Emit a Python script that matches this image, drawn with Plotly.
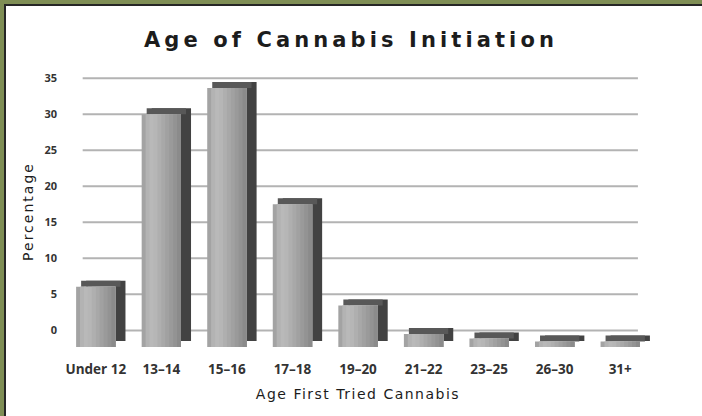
import plotly.graph_objects as go

# ---- data ----
categories = ["Under 12", "13–14", "15–16", "17–18", "19–20", "21–22", "23–25", "26–30", "31+"]
percentages = [7.5, 30.5, 34, 18.5, 5, 1.2, 0.6, 0.2, 0.2]
y_tick_values = [0, 5, 10, 15, 20, 25, 30, 35]

# ---- styling constants ----
GREEN = "#7f8e55"
DARK = "#262626"
TEXT = "#333333"
front_shades = ["#a3a3a3", "#b3b3b3", "#b9b9b9", "#b6b6b6", "#afafaf",
                "#a8a8a8", "#a1a1a1", "#9a9a9a", "#939393", "#8b8b8b"]
SIDE = "#424242"
TOP = "#585858"
BAR_W = 0.6
DX = 0.153      # 3-D depth shift (category units)
DY = 0.8        # 3-D depth shift (value units)
FLOOR = -0.53   # bar foot below the front-plane zero

W, H = 702, 416
L, R, T, B = 63, 49, 71, 64
pw, ph = W - L - R, H - T - B


def px_to_paper_x(px):
    return (px - L) / pw


def px_to_paper_y(py):
    return (H - B - py) / ph


fig = go.Figure()

# depth block (side face)
fig.add_trace(go.Bar(
    x=categories, y=[v - FLOOR for v in percentages], base=[FLOOR + DY] * len(categories),
    width=BAR_W, offset=-BAR_W / 2 + DX, marker=dict(color=SIDE, line=dict(width=0)),
    yaxis="y2", hoverinfo="skip", showlegend=False))
# top face
fig.add_trace(go.Bar(
    x=categories, y=[DY] * len(categories), base=percentages,
    width=BAR_W, offset=-BAR_W / 2 + DX / 2, marker=dict(color=TOP, line=dict(width=0)),
    yaxis="y2", hoverinfo="skip", showlegend=False))
# front face as overlapping gradient slices (each runs to the right edge)
n = len(front_shades)
for j, c in enumerate(front_shades):
    start = -BAR_W / 2 + j * BAR_W / n
    fig.add_trace(go.Bar(
        x=categories, y=[v - FLOOR for v in percentages], base=[FLOOR] * len(categories),
        width=BAR_W / 2 - start, offset=start,
        marker=dict(color=c, line=dict(width=0)),
        yaxis="y2", name="Percentage", showlegend=False,
        hovertemplate="%{x}: %{customdata}%<extra></extra>", customdata=percentages))

shapes = [
    # green frame on the left and top edges, with a dark rule inside it
    dict(type="rect", xref="paper", yref="paper",
         x0=px_to_paper_x(-10), x1=px_to_paper_x(4),
         y0=px_to_paper_y(H + 10), y1=px_to_paper_y(-10),
         fillcolor=GREEN, line=dict(width=0), layer="below"),
    dict(type="rect", xref="paper", yref="paper",
         x0=px_to_paper_x(-10), x1=px_to_paper_x(W + 10),
         y0=px_to_paper_y(4), y1=px_to_paper_y(-10),
         fillcolor=GREEN, line=dict(width=0), layer="below"),
    dict(type="rect", xref="paper", yref="paper",
         x0=px_to_paper_x(4), x1=px_to_paper_x(6),
         y0=px_to_paper_y(H + 10), y1=px_to_paper_y(4),
         fillcolor=DARK, line=dict(width=0), layer="below"),
    dict(type="rect", xref="paper", yref="paper",
         x0=px_to_paper_x(4), x1=px_to_paper_x(W + 10),
         y0=px_to_paper_y(6), y1=px_to_paper_y(4),
         fillcolor=DARK, line=dict(width=0), layer="below"),
]
for t in y_tick_values:
    shapes.append(dict(type="line", xref="x", yref="y", x0=-0.2, x1=8.27, y0=t, y1=t,
                       line=dict(color="#b3b3b3", width=2), layer="below"))

fig.update_layout(
    width=W, height=H,
    margin=dict(l=L, r=R, t=T, b=B, autoexpand=False),
    paper_bgcolor="white",
    plot_bgcolor="rgba(0,0,0,0)",
    barmode="overlay",
    showlegend=False,
    shapes=shapes,
    title=dict(
        text='<span style="letter-spacing:4.1px">Age of Cannabis Initiation</span>',
        x=0.5, xref="container", xanchor="center",
        y=1 - 40 / H, yref="container", yanchor="middle",
        font=dict(family="DejaVu Sans", size=21, color="#1c1c1c", weight="bold")),
    xaxis=dict(
        range=[-0.5, 8.5], showgrid=False, zeroline=False, showline=False,
        ticks="", ticklabelstandoff=7, automargin=False,
        tickfont=dict(family="Open Sans", size=13.5, color=TEXT, weight="bold"),
        title=dict(text='<span style="letter-spacing:1.5px">Age First Tried Cannabis</span>',
                   standoff=12,
                   font=dict(family="DejaVu Sans", size=14, color="#1c1c1c"))),
    yaxis=dict(
        range=[-3, 36], tickvals=y_tick_values, showgrid=False, zeroline=False,
        showline=False, ticks="", ticklabelstandoff=5, automargin=False,
        tickfont=dict(family="Open Sans", size=11, color=TEXT, weight="bold"),
        title=dict(text='<span style="letter-spacing:2px">Percentage</span>',
                   standoff=7,
                   font=dict(family="DejaVu Sans", size=14, color="#1c1c1c"))),
    yaxis2=dict(range=[-1.2, -1.2 + ph / 7.5], overlaying="y", visible=False),
)

fig.write_html(
    "out.html",
    config={"displayModeBar": False},
    post_script="document.body.style.margin='0';document.body.style.overflow='hidden';",
)
